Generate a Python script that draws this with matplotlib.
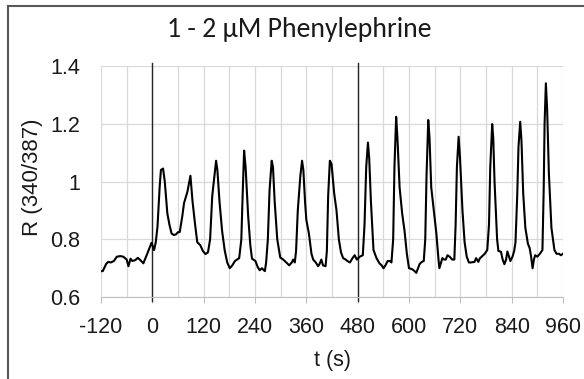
import matplotlib.pyplot as plt
from matplotlib.lines import Line2D

# time (s) and fluorescence ratio
t_sec = [-120, -116, -108, -103, -97, -90, -83, -75, -68, -60, -56, -51, -47, -40, -34, -28, -21, -12,
         -2, 4, 8, 12, 17, 20, 25, 29, 35, 40, 45, 50, 55, 60, 64, 70, 74, 82, 89, 94, 100, 105,
         112, 118, 124, 130, 135, 140, 149, 152, 157, 163, 169, 175, 181, 187, 193, 203, 208, 211,
         214.5, 218, 224, 229, 233, 241, 246, 251, 256, 263, 266, 270, 274, 279, 282, 286, 292, 299,
         306, 313, 320, 326, 329, 333, 336, 340, 346, 350, 353, 357, 360, 366, 372, 376, 382, 387.5,
         391, 395, 399, 405, 408, 411, 415, 419, 425, 430.5, 436, 441, 446, 452, 456, 462, 468, 473,
         478, 485, 492, 496, 500, 504, 507, 511, 517, 524, 531, 536, 540.5, 545, 550, 555, 559, 563,
         566, 570, 573, 578, 584, 589.5, 595, 600, 605, 609, 613, 617, 621, 625, 630, 634.5, 638,
         641, 645, 648, 652, 658, 664, 669, 671, 675, 678, 682, 686, 690, 695, 701, 706, 709, 712,
         716, 719, 725, 730, 735, 740, 745, 753, 757, 762, 766, 770, 777, 783, 787, 790, 794.5, 797,
         800, 803, 806, 809, 815, 819, 823, 827, 830, 834, 837, 842, 846, 849, 853, 856, 860, 863,
         867, 872, 878, 882, 885, 889, 892, 895, 900, 906, 912, 915, 917, 920, 923, 927, 933, 940,
         945, 951, 955, 960]
ratio = [0.69, 0.69, 0.715, 0.722, 0.72, 0.725, 0.74, 0.742, 0.74, 0.73, 0.707, 0.733, 0.725, 0.728,
         0.736, 0.728, 0.717, 0.75, 0.788, 0.763, 0.79, 0.844, 0.98, 1.04, 1.045, 1.0, 0.89, 0.85,
         0.82, 0.815, 0.817, 0.825, 0.825, 0.88, 0.925, 0.965, 1.02, 0.93, 0.85, 0.79, 0.78, 0.76,
         0.749, 0.755, 0.8, 0.95, 1.072, 1.04, 0.93, 0.83, 0.763, 0.72, 0.7, 0.71, 0.725, 0.735,
         0.8, 0.95, 1.107, 1.05, 0.88, 0.78, 0.733, 0.725, 0.705, 0.693, 0.7, 0.69, 0.72, 0.8, 0.97,
         1.072, 1.05, 0.93, 0.8, 0.737, 0.73, 0.72, 0.71, 0.72, 0.73, 0.72, 0.76, 0.9, 1.02, 1.072,
         1.04, 0.93, 0.867, 0.82, 0.75, 0.73, 0.72, 0.707, 0.715, 0.73, 0.71, 0.707, 0.76, 0.95,
         1.072, 1.06, 0.96, 0.9, 0.8, 0.755, 0.735, 0.73, 0.725, 0.72, 0.735, 0.745, 0.73, 0.74,
         0.745, 0.85, 1.05, 1.135, 1.08, 0.93, 0.763, 0.735, 0.717, 0.71, 0.7, 0.71, 0.725, 0.725,
         0.72, 0.8, 1.05, 1.224, 1.15, 0.98, 0.89, 0.83, 0.75, 0.7, 0.698, 0.695, 0.69, 0.684, 0.7,
         0.715, 0.722, 0.725, 0.8, 1.02, 1.213, 1.15, 0.98, 0.9, 0.82, 0.73, 0.7, 0.72, 0.735, 0.73,
         0.73, 0.745, 0.74, 0.73, 0.73, 0.85, 1.05, 1.155, 1.09, 0.9, 0.79, 0.74, 0.72, 0.72, 0.722,
         0.735, 0.722, 0.735, 0.74, 0.75, 0.763, 0.85, 1.05, 1.199, 1.15, 1.0, 0.9, 0.8, 0.76, 0.757,
         0.73, 0.714, 0.73, 0.758, 0.74, 0.725, 0.74, 0.76, 0.79, 0.95, 1.12, 1.207, 1.14, 0.96,
         0.84, 0.785, 0.77, 0.745, 0.7, 0.73, 0.745, 0.74, 0.75, 0.763, 0.98, 1.2, 1.34, 1.25, 1.03,
         0.84, 0.763, 0.75, 0.75, 0.745, 0.75]

x_ticks = [-120, 0, 120, 240, 360, 480, 600, 720, 840, 960]
x_tick_labels = ["-120", "0", "120", "240", "360", "480", "600", "720", "840", "960"]
y_ticks = [0.6, 0.8, 1.0, 1.2, 1.4]
y_tick_labels = ["0.6", "0.8", "1", "1.2", "1.4"]
drug_times = [0, 480]

plt.rcParams['font.family'] = 'sans-serif'
plt.rcParams['font.sans-serif'] = ['Liberation Sans']
plt.rcParams['axes.unicode_minus'] = False

fig = plt.figure(figsize=(5.84, 3.79), dpi=100)
ax = fig.add_axes([0.173, 0.216, 0.791, 0.610])

grid_col = "#d9d9d9"
for gx in range(-120, 961, 60):
    ax.axvline(gx, color=grid_col, lw=0.9, zorder=0)
for gy in y_ticks:
    ax.axhline(gy, color=grid_col, lw=0.9, zorder=0)

for dt in drug_times:
    ax.axvline(dt, ymin=-0.015, ymax=1.012, color="#262626", lw=1.0, zorder=2, clip_on=False)

ax.plot(t_sec, ratio, color="black", lw=1.5, zorder=3)

ax.set_xlim(-120, 960)
ax.set_ylim(0.6, 1.4)
ax.set_xticks(x_ticks)
ax.set_xticklabels(x_tick_labels)
ax.set_yticks(y_ticks)
ax.set_yticklabels(y_tick_labels)
ax.tick_params(axis="x", length=4, color="#bfbfbf", labelsize=15.5, pad=10, labelcolor="#1a1a1a")
ax.tick_params(axis="y", length=0, labelsize=15.5, pad=15, labelcolor="#1a1a1a")
for s in ["top", "right", "left"]:
    ax.spines[s].set_visible(False)
ax.spines["bottom"].set_color("#bfbfbf")

ax.set_xlabel("t (s)", fontsize=15.5, color="#1a1a1a")
ax.xaxis.set_label_coords(0.5, -0.229)
ax.set_ylabel("R (340/387)", fontsize=16, color="#1a1a1a")
ax.yaxis.set_label_coords(-0.126, 0.52)

fig.text(0.512, 0.921, "1 - 2 \u00b5M Phenylephrine", fontsize=20,
         family=["Carlito", "Lato", "DejaVu Sans"], ha="center", va="center", color="#1a1a1a")

# chart border (only top and left edges fall inside the image)
fig.add_artist(Line2D([8 / 584, 8 / 584], [0, 1 - 6 / 379], transform=fig.transFigure,
                      color="#595959", lw=1.5))
fig.add_artist(Line2D([8 / 584, 1], [1 - 6 / 379, 1 - 6 / 379], transform=fig.transFigure,
                      color="#595959", lw=1.5))

plt.savefig("out.png", dpi=100)
